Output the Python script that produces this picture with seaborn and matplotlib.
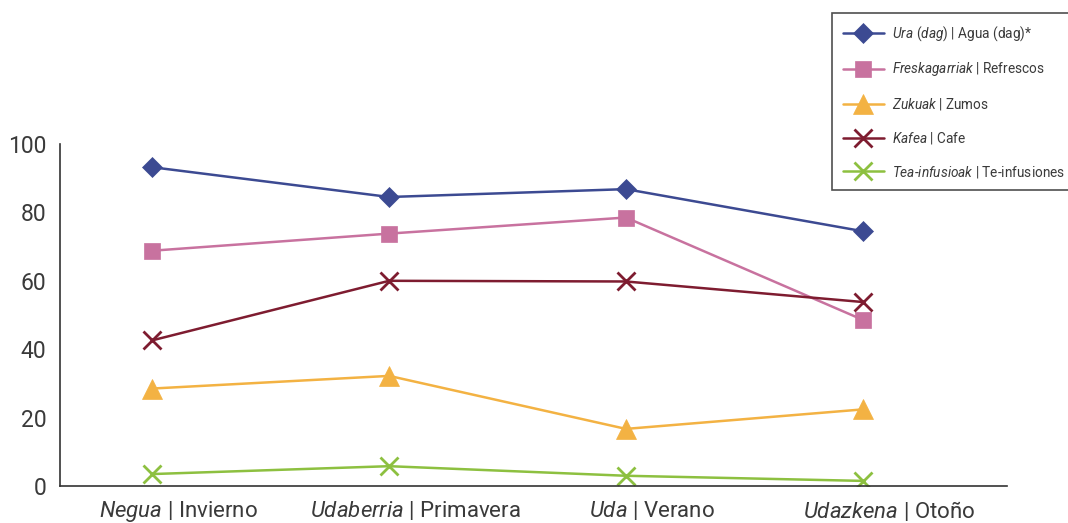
import numpy as np
import pandas as pd
import matplotlib
matplotlib.use("Agg")
import matplotlib.pyplot as plt
import seaborn as sns

# data
seasons_eu = ["Negua", "Udaberria", "Uda", "Udazkena"]
seasons_es = ["Invierno", "Primavera", "Verano", "Otoño"]

ura = [93.2, 84.5, 86.8, 74.5]
freskagarriak = [68.8, 73.8, 78.5, 48.6]
zukuak = [28.5, 32.2, 16.7, 22.4]
kafea = [42.6, 60.0, 59.8, 53.8]
tea = [3.5, 5.8, 3.0, 1.5]

series_eu = ["Ura (dag)", "Freskagarriak", "Zukuak", "Kafea", "Tea\u2010infusioak"]
series_es = ["Agua (dag)*", "Refrescos", "Zumos", "Cafe", "Te-infusiones"]
values = [ura, freskagarriak, zukuak, kafea, tea]

colors = ["#3c4a92", "#c8729f", "#f3b243", "#7e1c30", "#8dc040"]
markers = ["D", "s", "^", "x", "x"]
msizes = [10, 12, 15, 13, 13]

sns.set_style("white")
plt.rcParams["font.family"] = ["Roboto", "DejaVu Sans"]
plt.rcParams["mathtext.fontset"] = "custom"
plt.rcParams["mathtext.rm"] = "Roboto"
plt.rcParams["mathtext.it"] = "Roboto:italic"
plt.rcParams["mathtext.default"] = "it"

text_col = "#3a3a3a"

fig = plt.figure(figsize=(10.68, 5.23), dpi=100)
ax = fig.add_axes([0.0562, 0.0707, 0.8868, 0.654])

x = np.arange(len(seasons_eu))
for eu, es, vals, c, m, ms in zip(series_eu, series_es, values, colors, markers, msizes):
    lab = r"$\mathit{" + eu.replace(" ", r"\ ") + r"}$ | " + es
    sns.lineplot(x=x, y=vals, ax=ax, color=c, marker=m, markersize=ms,
                 markeredgewidth=2 if m == "x" else 0.5, markeredgecolor=c,
                 linewidth=1.8, label=lab)

offset = 0.39
ax.set_xlim(-offset, len(x) - offset)
ax.set_ylim(0, 100)
ax.set_yticks([0, 20, 40, 60, 80, 100])

# ticks at category boundaries, labels in the middle
ax.set_xticks(np.arange(len(x) + 1) - offset)
ax.set_xticklabels([])
ax.set_xticks(x + 0.5 - offset, minor=True)
ax.set_xticklabels([r"$\mathit{" + a + r"}$ | " + b for a, b in zip(seasons_eu, seasons_es)],
                   minor=True, fontsize=16, color=text_col)
ax.tick_params(axis="x", which="major", direction="out", length=9, width=1.2, color="#333333")
ax.tick_params(axis="x", which="minor", length=0, pad=9)
ax.tick_params(axis="y", direction="out", length=7, width=1.2, color="#333333",
               labelsize=16.5, labelcolor=text_col, pad=3)

for side in ["top", "right"]:
    ax.spines[side].set_visible(False)
for side in ["left", "bottom"]:
    ax.spines[side].set_color("#333333")
    ax.spines[side].set_linewidth(1.2)
ax.set_xlabel("")
ax.set_ylabel("")

leg = ax.legend(loc="upper left", frameon=True, fancybox=False,
                prop={"size": 9.8}, labelspacing=1.3,
                handlelength=3.0, handletextpad=0.6, borderpad=0.8,
                borderaxespad=0, labelcolor=text_col)
leg.set_bbox_to_anchor((0.779, 0.975), transform=fig.transFigure)
leg.get_frame().set_edgecolor("#222222")
leg.get_frame().set_linewidth(1.2)

fig.savefig("out.png", dpi=100)
